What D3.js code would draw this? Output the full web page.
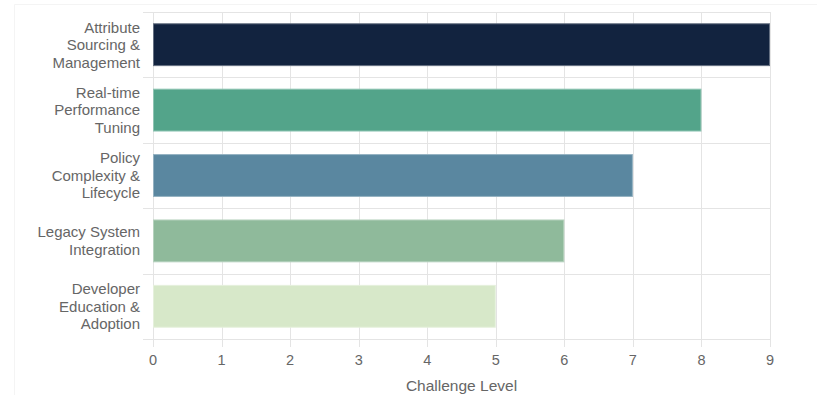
<!DOCTYPE html>
<html>
<head>
<meta charset="utf-8">
<script src="https://cdn.jsdelivr.net/npm/d3@7"></script>
<style>
  html, body { margin: 0; padding: 0; background: #fff; }
  svg { display: block; }
  text { font-family: "Liberation Sans", Arial, Helvetica, sans-serif; fill: #666; }
</style>
</head>
<body>
<div id="chart"></div>
<script>
const categories = [
  "Attribute Sourcing & Management",
  "Real-time Performance Tuning",
  "Policy Complexity & Lifecycle",
  "Legacy System Integration",
  "Developer Education & Adoption"
];
const categoryLines = [
  ["Attribute", "Sourcing &", "Management"],
  ["Real-time", "Performance", "Tuning"],
  ["Policy", "Complexity &", "Lifecycle"],
  ["Legacy System", "Integration"],
  ["Developer", "Education &", "Adoption"]
];
const values = [9, 8, 7, 6, 5];
const colors = ["#12233f", "#53a48a", "#5a87a0", "#8fba9b", "#d7e8c9"];
const xTicks = [0, 1, 2, 3, 4, 5, 6, 7, 8, 9];
const xTitle = "Challenge Level";

const W = 817, H = 395;
const margin = { top: 12, right: 47, bottom: 56, left: 153 };
const svg = d3.select("#chart").append("svg").attr("width", W).attr("height", H);

// faint card frame
svg.append("path")
  .attr("d", `M14.5,${H} L14.5,4.5 L${W},4.5`)
  .attr("fill", "none").attr("stroke", "#f4f4f4").attr("stroke-width", 1);

const x = d3.scaleLinear().domain([0, 9]).range([margin.left, W - margin.right]);
const y = d3.scaleBand().domain(categories)
  .range([margin.top, H - margin.bottom])
  .paddingInner(0.36).paddingOuter(0.18);

const step = y.step();
const y0 = margin.top, y1 = H - margin.bottom;
const grid = svg.append("g");
// horizontal gridlines at category boundaries (extend as ticks to the left)
for (let i = 0; i <= categories.length; i++) {
  const yy = Math.round(y0 + i * step) + 0.5;
  grid.append("line")
    .attr("x1", margin.left - 10).attr("x2", x(9))
    .attr("y1", yy).attr("y2", yy)
    .attr("stroke", "#e4e4e4").attr("stroke-width", 1);
}
// vertical gridlines (extend as ticks below)
xTicks.forEach(t => {
  const xx = Math.round(x(t)) + 0.5;
  grid.append("line")
    .attr("x1", xx).attr("x2", xx)
    .attr("y1", y0).attr("y2", y1 + 8)
    .attr("stroke", "#e4e4e4").attr("stroke-width", 1);
});

// bars
svg.append("g").selectAll("rect").data(categories).join("rect")
  .attr("x", x(0) + 0.5)
  .attr("y", d => y(d))
  .attr("width", (d, i) => x(values[i]) - x(0) - 1)
  .attr("height", y.bandwidth())
  .attr("fill", (d, i) => colors[i])
  .attr("stroke", (d, i) => d3.interpolateRgb(colors[i], "#ffffff")(0.35))
  .attr("stroke-width", 1);

// x axis tick labels
svg.append("g").selectAll("text").data(xTicks).join("text")
  .attr("x", d => x(d)).attr("y", 365)
  .attr("text-anchor", "middle")
  .style("font-size", "14.5px")
  .text(d => d);

// x title
svg.append("text")
  .attr("x", (x(0) + x(9)) / 2).attr("y", 391)
  .attr("text-anchor", "middle")
  .style("font-size", "15.5px")
  .text(xTitle);

// y labels
const lh = 17.5;
const yl = svg.append("g");
categories.forEach((c, i) => {
  const lines = categoryLines[i];
  const cy = y(c) + y.bandwidth() / 2;
  const t = yl.append("text")
    .attr("text-anchor", "end")
    .style("font-size", "15px");
  lines.forEach((ln, j) => {
    t.append("tspan")
      .attr("x", 140)
      .attr("y", cy + (j - (lines.length - 1) / 2) * lh + 5.3)
      .text(ln);
  });
});
</script>
</body>
</html>
